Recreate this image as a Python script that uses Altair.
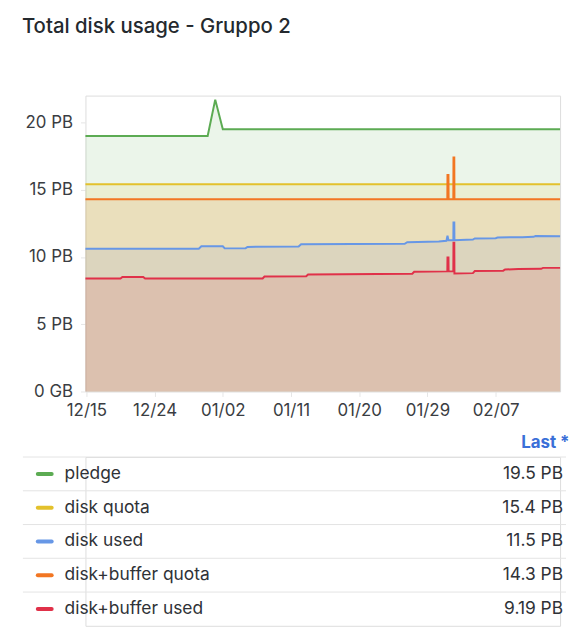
import altair as alt
import pandas as pd

# ---------------- data ----------------
SERIES = ["pledge", "disk quota", "disk used", "disk+buffer quota", "disk+buffer used"]
COLORS = ["#5cab53", "#e3c12c", "#6797e6", "#f27622", "#e03149"]
LAST = ["19.5 PB", "15.4 PB", "11.5 PB", "14.3 PB", "9.19 PB"]

START = "2023-12-14T21:00"
END = "2024-02-15T12:00"

pledge_t = [START, "2023-12-31T00:00", "2024-01-01T00:00", "2024-01-02T00:00", END]
pledge_v = [19.0, 19.0, 21.7, 19.5, 19.5]

quota_t = [START, END]
quota_v = [15.4, 15.4]

used_t = [START, "2023-12-29T20:00", "2023-12-30T04:00", "2024-01-02T00:00", "2024-01-02T06:00",
          "2024-01-05T00:00", "2024-01-05T06:00", "2024-01-12T00:00", "2024-01-12T08:00",
          "2024-01-26T00:00", "2024-01-26T08:00", "2024-01-30T12:00", "2024-01-31T12:00",
          "2024-01-31T15:30", "2024-01-31T18:30", "2024-02-01T10:00", "2024-02-01T10:30",
          "2024-02-01T13:00", "2024-02-01T13:30", "2024-02-04T00:00", "2024-02-04T06:00",
          "2024-02-07T00:00", "2024-02-07T06:00", "2024-02-10T12:00", "2024-02-12T00:00",
          "2024-02-12T06:00", END]
used_v = [10.62, 10.62, 10.8, 10.8, 10.64,
          10.64, 10.75, 10.78, 10.95,
          10.98, 11.1, 11.15, 11.2,
          11.58, 11.25, 11.25, 12.57,
          12.57, 11.25, 11.3, 11.38,
          11.4, 11.45, 11.47, 11.5,
          11.56, 11.54]

bquota_t = [START, "2024-01-31T15:00", "2024-01-31T15:30", "2024-01-31T18:30", "2024-01-31T19:00",
            "2024-02-01T10:00", "2024-02-01T10:30", "2024-02-01T13:00", "2024-02-01T13:30", END]
bquota_v = [14.3, 14.3, 16.1, 16.1, 14.3, 14.3, 17.4, 17.4, 14.3, 14.3]

bused_t = [START, "2023-12-19T12:00", "2023-12-19T18:00", "2023-12-22T12:00", "2023-12-22T18:00",
           "2024-01-07T06:00", "2024-01-07T12:00", "2024-01-13T00:00", "2024-01-13T06:00",
           "2024-01-27T00:00", "2024-01-27T06:00", "2024-01-31T15:00", "2024-01-31T15:30",
           "2024-01-31T18:30", "2024-01-31T19:00", "2024-02-01T10:00", "2024-02-01T10:30",
           "2024-02-01T13:00", "2024-02-01T13:30", "2024-02-04T00:00", "2024-02-04T06:00",
           "2024-02-08T00:00", "2024-02-08T06:00", "2024-02-10T00:00", "2024-02-13T00:00",
           "2024-02-13T06:00", END]
bused_v = [8.4, 8.4, 8.52, 8.52, 8.4,
           8.4, 8.55, 8.57, 8.7,
           8.75, 8.9, 8.93, 9.96,
           9.96, 8.93, 8.93, 11.06,
           11.06, 8.78, 8.8, 8.95,
           8.98, 9.07, 9.1, 9.12,
           9.19, 9.19]

X_TICKS = ["2023-12-15", "2023-12-24", "2024-01-02", "2024-01-11", "2024-01-20", "2024-01-29", "2024-02-07"]
Y_TICKS = [0, 5, 10, 15, 20]

# ---------------- build tables ----------------
rows = []
for name, ts, vs in [("pledge", pledge_t, pledge_v), ("disk quota", quota_t, quota_v),
                     ("disk used", used_t, used_v), ("disk+buffer quota", bquota_t, bquota_v),
                     ("disk+buffer used", bused_t, bused_v)]:
    for t, v in zip(ts, vs):
        rows.append({"series": name, "t": t, "v": v})
df = pd.DataFrame(rows)


def dt(s):
    d = pd.Timestamp(s)
    return alt.DateTime(year=int(d.year), month=int(d.month), date=int(d.day),
                        hours=int(d.hour), minutes=int(d.minute))


FONT = "Inter"
TXT = "#3a3d42"
x_enc = alt.X("t:T", scale=alt.Scale(domain=[dt(START), dt(END)]),
              axis=alt.Axis(values=[dt(s) for s in X_TICKS], format="%m/%d", title=None,
                            labelFontSize=17, labelColor=TXT, labelFont=FONT,
                            labelFlush=False, labelPadding=6, tickSize=5, tickColor="#e6e6e6",
                            domain=False, grid=False, labelOverlap=False))
y_enc = alt.Y("v:Q", stack=None, scale=alt.Scale(domain=[0, 22], nice=False),
              axis=alt.Axis(values=Y_TICKS, labelExpr="datum.value == 0 ? '0 GB' : datum.value + ' PB'",
                            title=None, labelFontSize=17, labelColor=TXT, labelFont=FONT,
                            labelFlush=False, labelPadding=8, tickSize=5, tickColor="#e6e6e6",
                            domain=False, grid=False))
col = alt.Color("series:N", scale=alt.Scale(domain=SERIES, range=COLORS), legend=None)

base = alt.Chart(df)
areas = base.mark_area(fillOpacity=0.12).encode(x=x_enc, y=y_enc, color=col)
lines = base.mark_line(strokeWidth=2).encode(x=x_enc, y=y_enc, color=col)
plot = alt.layer(areas, lines).properties(width=478, height=298)

# ---------------- legend table ----------------
leg = pd.DataFrame({"row": SERIES, "last": LAST, "swatch": COLORS})
yscale = alt.Scale(domain=SERIES, paddingInner=0, paddingOuter=0)
yb = alt.Y("row:N", sort=SERIES, axis=None, scale=yscale)
lb = alt.Chart(leg)
seps = lb.mark_rule(color="#e4e4e4", strokeWidth=1).encode(
    y=alt.Y("row:N", sort=SERIES, axis=None, scale=yscale, bandPosition=0),
    x=alt.value(-63), x2=alt.value(484))
sw = lb.mark_rule(strokeWidth=4, strokeCap="round").encode(
    y=yb, x=alt.value(-48), x2=alt.value(-34), stroke=alt.Stroke("swatch:N", scale=None))
names = lb.mark_text(align="left", baseline="middle", fontSize=17.5, font=FONT, color="#2f3237").encode(
    y=yb, x=alt.value(-21), text="row:N")
vals = lb.mark_text(align="right", baseline="middle", fontSize=17.5, font=FONT, color="#2f3237").encode(
    y=yb, x=alt.value(481), text="last:N")
legend = alt.layer(seps, sw, names, vals).properties(
    width=478, height=170,
    title=alt.TitleParams("Last *", anchor="end", color="#3a6fd8", fontSize=17, fontWeight="bold",
                          font=FONT, offset=4.5, dx=3))

chart = alt.vconcat(plot, legend, spacing=14).resolve_scale(
    x="independent", y="independent", color="independent"
).properties(
    title=alt.TitleParams("Total disk usage - Gruppo 2", anchor="start", fontSize=20.5, fontWeight=500,
                          color="#24292e", font=FONT, offset=58),
    padding={"left": 14, "top": 7, "right": 0, "bottom": 0},
).configure_view(stroke="transparent", strokeWidth=0).configure(font=FONT)

chart.save("out.html", embed_options={"renderer": "svg", "actions": False})
